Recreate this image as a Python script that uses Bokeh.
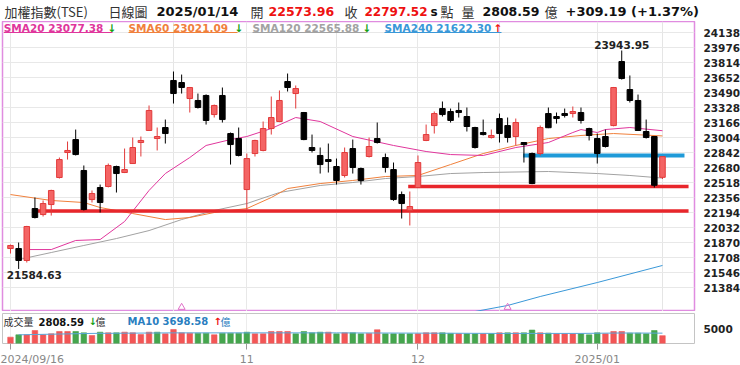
from bokeh.plotting import figure
from bokeh.layouts import column
from bokeh.models import ColumnDataSource, FixedTicker, Label, BoxAnnotation, Range1d, Grid
from bokeh.core.properties import value
from bokeh.embed import file_html
from bokeh.resources import INLINE

# ---------------- data ----------------
open_ = [21805, 21805, 21676, 22237, 22172, 22280, 22572, 22842, 22982, 22648,
         22334, 22464, 22475, 22691, 22626, 22723, 22950, 23080, 22993, 23112,
         23620, 23598, 23425, 23404, 23458, 23252, 23458, 23047, 22993, 22442,
         22831, 22864, 23101, 23177, 23609, 23479, 23274, 22896, 22810, 22766,
         22691, 22594, 22885, 22669, 22799, 22993, 22788, 22658, 22388, 22216,
         22464, 22972, 23133, 23317, 23285, 23296, 23231, 23112, 23058, 23004,
         23209, 23133, 23015, 22950, 22831, 22831, 23263, 23231, 23263, 23263,
         23274, 23101, 22993, 23015, 23133, 23825, 23522, 23404, 23069, 23015,
         22573.96]
high = [21848, 21870, 22050, 22356, 22324, 22440, 22788, 22961, 23090, 22702,
        22432, 22496, 22723, 22700, 22885, 23004, 23015, 23350, 23112, 23198,
        23717, 23684, 23550, 23479, 23470, 23360, 23544, 23058, 23112, 22831,
        22980, 23177, 23447, 23512, 23695, 23566, 23280, 23036, 22896, 22939,
        22777, 22896, 22982, 22680, 23004, 23166, 22831, 22734, 22421, 22421,
        22810, 23144, 23285, 23393, 23317, 23382, 23328, 23120, 23198, 23090,
        23263, 23220, 23209, 22955, 22842, 23134, 23328, 23274, 23317, 23339,
        23328, 23110, 23047, 23090, 23550, 23943.95, 23674, 23468, 23198, 23020,
        22800]
low = [21751, 21584.63, 21654, 22130, 22151, 22161, 22561, 22766, 22810, 22216,
       22302, 22194, 22465, 22410, 22620, 22720, 22799, 23075, 22864, 22939,
       23371, 23479, 23274, 23317, 23144, 23220, 23166, 22712, 22800, 22226,
       22799, 22855, 23036, 23170, 23501, 23317, 22975, 22842, 22615, 22626,
       22496, 22572, 22615, 22496, 22788, 22939, 22626, 22320, 22129, 22054,
       22460, 22965, 23047, 23231, 23166, 23220, 23069, 22885, 23026, 22993,
       22950, 22950, 22918, 22734, 22500, 22810, 23105, 23155, 23220, 23220,
       23155, 22972, 22723, 22896, 23125, 23630, 23382, 23075, 22993, 22464,
       22556]
close = [21838, 21676, 22043, 22140, 22291, 22432, 22766, 22864, 22820, 22226,
         22399, 22302, 22702, 22615, 22658, 22896, 22972, 23296, 23015, 23047,
         23479, 23544, 23544, 23328, 23188, 23350, 23198, 22928, 22810, 22777,
         22972, 23101, 23220, 23404, 23544, 23533, 22982, 22864, 22712, 22745,
         22540, 22842, 22680, 22540, 22907, 22950, 22680, 22334, 22291, 22259,
         22734, 23036, 23263, 23252, 23188, 23274, 23123, 22896, 23036, 23026,
         23047, 23004, 23166, 22928, 22507, 23112, 23110, 23209, 23242, 23285,
         23188, 23026, 22831, 22907, 23544, 23641, 23404, 23080, 23004, 22488.33,
         22797.52]
volume = [2260, 3100, 3100, 4640, 3100, 3450, 4290, 4290, 4290, 3810,
          2860, 4050, 3810, 3810, 4050, 3810, 3200, 4050, 4050, 3450,
          5000, 3810, 3690, 3690, 3690, 3100, 3690, 3690, 3690, 4050,
          3450, 3450, 4290, 4290, 4290, 3450, 4290, 3810, 4050, 4050,
          3450, 3810, 3810, 3450, 3600, 4900, 3450, 3450, 3450, 3450,
          3450, 3810, 3810, 3810, 3600, 3450, 3450, 3450, 3450, 3450,
          3810, 3810, 3810, 3810, 4800, 3810, 3700, 3450, 3450, 3450,
          3450, 3100, 3810, 3450, 4290, 4290, 3700, 3700, 3450, 4640,
          2808.59]
vol_ma10_idx = [1, 10, 20, 30, 40, 50, 60, 70, 75, 80]
vol_ma10_val = [3100, 3600, 3800, 3800, 3800, 3700, 3600, 3600, 3750, 3698.58]

sma20_idx = [2, 5, 8, 11, 14, 17, 19, 22, 24, 27, 29, 32, 35, 38, 42, 47, 51, 54, 58, 62, 66, 69, 70, 72, 73, 76, 80]
sma20_val = [21794, 21794, 21892, 21902, 22097, 22432, 22615, 22788, 22918, 22982, 23015, 23101, 23220, 23177,
             23015, 22918, 22853, 22820, 22810, 22896, 22950, 23058, 23090, 23058, 23090, 23112, 23077.38]
sma60_idx = [0, 5, 9, 11, 15, 19, 22, 25, 29, 32, 34, 38, 42, 46, 50, 54, 58, 62, 66, 70, 74, 80]
sma60_val = [22388, 22324, 22302, 22248, 22183, 22118, 22140, 22194, 22237, 22356, 22453, 22507, 22540,
             22583, 22594, 22712, 22831, 22918, 22993, 23026, 23047, 23021.09]
sma120_idx = [1, 5, 9, 13, 17, 21, 25, 29, 33, 38, 42, 46, 50, 54, 58, 66, 72, 76, 80]
sma120_val = [21686, 21762, 21838, 21913, 21999, 22118, 22216, 22291, 22410, 22486, 22518, 22561, 22583,
              22615, 22626, 22637, 22615, 22594, 22565.88]
sma240_idx = [57, 61, 65, 72, 80]
sma240_val = [21125, 21190, 21287, 21438, 21622.30]

support_y = [22210, 22475]
support_from = [2.7, 48.8]
support_to = [83.2, 83.2]
resist_y = [22810]
resist_from = [62.9]
resist_to = [82.7]

marker_idx = [21, 61]
marker_val = [21170, 21170]

y_ticks = [21384, 21546, 21708, 21870, 22032, 22194, 22356, 22518, 22680, 22842,
           23004, 23166, 23328, 23490, 23652, 23814, 23976, 24138]
vol_ticks = [5000]
date_tick_idx = [0, 29, 50, 72]
date_tick_labels = ["2024/09/16", "11", "12", "2025/01"]

# ---------------- styling ----------------
RED_F, RED_L = "#f46464", "#e23a3a"
VRED, VGREEN = "#f25656", "#45a54e"
C_SMA20, C_SMA60, C_SMA120, C_SMA240 = "#e0369c", "#f0803c", "#a2a2a2", "#3a98d8"
LAB = "DejaVu Sans"
CJK = "Noto Sans CJK TC"

FW = 692
XR = Range1d(-0.98, 83.93)


def lab(fig, sx, sy, text, size, color, bold=False, font=LAB):
    fig.add_layout(Label(x=sx, y=sy, x_units="screen", y_units="screen", text=text,
                         text_font=font, text_font_size=f"{size}px", text_color=color,
                         text_font_style="bold" if bold else "normal",
                         text_baseline="middle", text_align="left"))


# ---------------- header strip ----------------
hdr = figure(frame_width=740, frame_height=21, x_range=Range1d(0, 1), y_range=Range1d(0, 1),
             x_axis_location=None, y_axis_location=None, toolbar_location=None,
             output_backend="svg", min_border=0)
hdr.outline_line_color = None
hdr.grid.visible = False
hy = 10
lab(hdr, 2, hy, "加權指數(TSE)", 13, "#333333", font=CJK)
lab(hdr, 106, hy, "日線圖", 13, "#333333", font=CJK)
lab(hdr, 154, hy, "2025/01/14", 13, "#111111", bold=True)
lab(hdr, 248, hy, "開", 13, "#333333", font=CJK)
lab(hdr, 266, hy, "22573.96", 12.5, "#ee1111", bold=True)
lab(hdr, 342, hy, "收", 13, "#333333", font=CJK)
lab(hdr, 362, hy, "22797.52", 12, "#ee1111", bold=True)
lab(hdr, 428, hy, "s", 12, "#111111", bold=True)
lab(hdr, 438, hy, "點", 13, "#333333", font=CJK)
lab(hdr, 459, hy, "量", 13, "#333333", font=CJK)
lab(hdr, 480, hy, "2808.59", 12.5, "#111111", bold=True)
lab(hdr, 542, hy, "億", 13, "#333333", font=CJK)
lab(hdr, 563, hy, "+309.19 (+1.37%)", 13, "#111111", bold=True)

# ---------------- main price panel ----------------
H = 290
p = figure(frame_width=FW, frame_height=H, x_range=XR, y_range=Range1d(21125, 24257),
           x_axis_location=None, y_axis_location="right", toolbar_location=None,
           output_backend="svg", min_border_left=2, min_border_right=46,
           min_border_top=0, min_border_bottom=0)
p.outline_line_color = "#e08ce0"
p.outline_line_width = 1.5
p.yaxis.ticker = FixedTicker(ticks=y_ticks)
p.yaxis.axis_line_color = None
p.yaxis.major_tick_line_color = None
p.yaxis.minor_tick_line_color = None
p.yaxis.major_label_standoff = 3
p.yaxis.major_label_text_font = LAB
p.yaxis.major_label_text_font_style = "bold"
p.yaxis.major_label_text_font_size = "10.5px"
p.yaxis.major_label_text_color = "#222222"
p.ygrid.grid_line_color = "#e8e8e8"
p.add_layout(Grid(dimension=0, ticker=FixedTicker(ticks=date_tick_idx), grid_line_color="#e8e8e8"))

n = len(close)
idx = list(range(n))
up = [c >= o for o, c in zip(open_, close)]
src = ColumnDataSource(dict(
    x=idx, h=high, l=low,
    top=[max(o, c) for o, c in zip(open_, close)],
    bot=[min(o, c) for o, c in zip(open_, close)],
    fill=[RED_F if u else "#000000" for u in up],
    line=[RED_L if u else "#000000" for u in up]))

p.line(sma120_idx, sma120_val, line_color=C_SMA120, line_width=1)
p.line(sma60_idx, sma60_val, line_color=C_SMA60, line_width=1)
p.line(sma20_idx, sma20_val, line_color=C_SMA20, line_width=1)
p.line(sma240_idx, sma240_val, line_color=C_SMA240, line_width=1)

p.segment(x0=support_from, y0=support_y, x1=support_to, y1=support_y, line_color="#e8262b", line_width=3.5)
p.segment(x0=resist_from, y0=resist_y, x1=resist_to, y1=resist_y, line_color="#1f9ad8", line_width=4)

p.segment(x0="x", y0="h", x1="x", y1="l", line_color="line", line_width=1, source=src)
p.vbar(x="x", width=0.68, top="top", bottom="bot", fill_color="fill", line_color="line", line_width=1, source=src)

p.scatter(marker_idx, marker_val, marker="triangle", size=7, fill_color=None, line_color="#e070c8", line_width=1)

hi_i = high.index(max(high))
lo_i = low.index(min(low))
p.text(x=[hi_i], y=[high[hi_i]], text=["%.2f" % high[hi_i]], text_align="center", text_baseline="bottom",
       y_offset=-1, text_font=value(LAB), text_font_style="bold", text_font_size="10.5px", text_color="#222222")
p.text(x=[lo_i], y=[low[lo_i]], text=["%.2f" % low[lo_i]], text_align="left", text_baseline="top",
       x_offset=-12, y_offset=2, text_font=value(LAB), text_font_style="bold", text_font_size="10.5px", text_color="#222222")

ly = H - 6.5
legend_items = [(1.3, 105, 110, "SMA20 23077.38", C_SMA20, "↓", "#12a012"),
                (126, 232, 235, "SMA60 23021.09", C_SMA60, "↓", "#12a012"),
                (250, 360, 365, "SMA120 22565.88", C_SMA120, "↓", "#12a012"),
                (382, 491, 499, "SMA240 21622.30", C_SMA240, "↑", "#ee1111")]
for sx, ax, ux, txt, col, arr, acol in legend_items:
    lab(p, sx, ly, txt, 10.5, col, bold=True)
    lab(p, ax, ly, arr, 10.5, acol, bold=True)
    p.add_layout(BoxAnnotation(left=sx, right=ux, bottom=H - 11.5, top=H - 10.5,
                               left_units="screen", right_units="screen",
                               bottom_units="screen", top_units="screen",
                               fill_color=col, fill_alpha=1, line_color=None))

# ---------------- volume panel ----------------
VH = 30
v = figure(frame_width=FW, frame_height=VH, x_range=XR, y_range=Range1d(0, 10714),
           y_axis_location="right", toolbar_location=None, output_backend="svg",
           min_border_left=2, min_border_right=46, min_border_top=2, min_border_bottom=0)
v.outline_line_color = "#c4c4c4"
v.yaxis.ticker = FixedTicker(ticks=vol_ticks)
v.yaxis.axis_line_color = None
v.yaxis.major_tick_line_color = None
v.yaxis.minor_tick_line_color = None
v.yaxis.major_label_standoff = 3
v.yaxis.major_label_text_font = LAB
v.yaxis.major_label_text_font_style = "bold"
v.yaxis.major_label_text_font_size = "10.5px"
v.yaxis.major_label_text_color = "#222222"
v.ygrid.grid_line_color = None
v.xaxis.ticker = FixedTicker(ticks=date_tick_idx)
v.xaxis.major_label_overrides = {i: s for i, s in zip(date_tick_idx, date_tick_labels)}
v.xaxis.axis_line_color = None
v.xaxis.major_tick_in = 0
v.xaxis.major_tick_out = 6
v.xaxis.minor_tick_line_color = None
v.xaxis.major_tick_line_color = "#999999"
v.xaxis.major_label_standoff = 3
v.xaxis.major_label_text_font = LAB
v.xaxis.major_label_text_font_size = "11px"
v.xaxis.major_label_text_color = "#888888"
v.xgrid.grid_line_color = "#ececec"

vcol = [VRED] + [VRED if close[i] >= close[i - 1] else VGREEN for i in range(1, n)]
vsrc = ColumnDataSource(dict(x=idx, v=volume, c=vcol))
v.vbar(x="x", width=0.68, top="v", bottom=0, fill_color="c", line_color="c", line_alpha=0.6, source=vsrc)
v.line(vol_ma10_idx, vol_ma10_val, line_color="#5aa6d8", line_width=1)

vy = VH - 8
lab(v, 1, vy, "成交量", 10, "#333333", font=CJK)
lab(v, 36, vy, "2808.59", 10, "#111111", bold=True)
lab(v, 86, vy, "↓", 10, "#12a012", bold=True)
lab(v, 93, vy, "億", 10, "#333333", font=CJK)
lab(v, 125, vy, "MA10 3698.58", 10, "#2a7ec0", bold=True)
lab(v, 211, vy, "↑", 10, "#ee1111", bold=True)
lab(v, 218, vy, "億", 10, "#2a7ec0", font=CJK)

layout = column(hdr, p, v, spacing=0)
open("out.html", "w").write(file_html(layout, INLINE))
